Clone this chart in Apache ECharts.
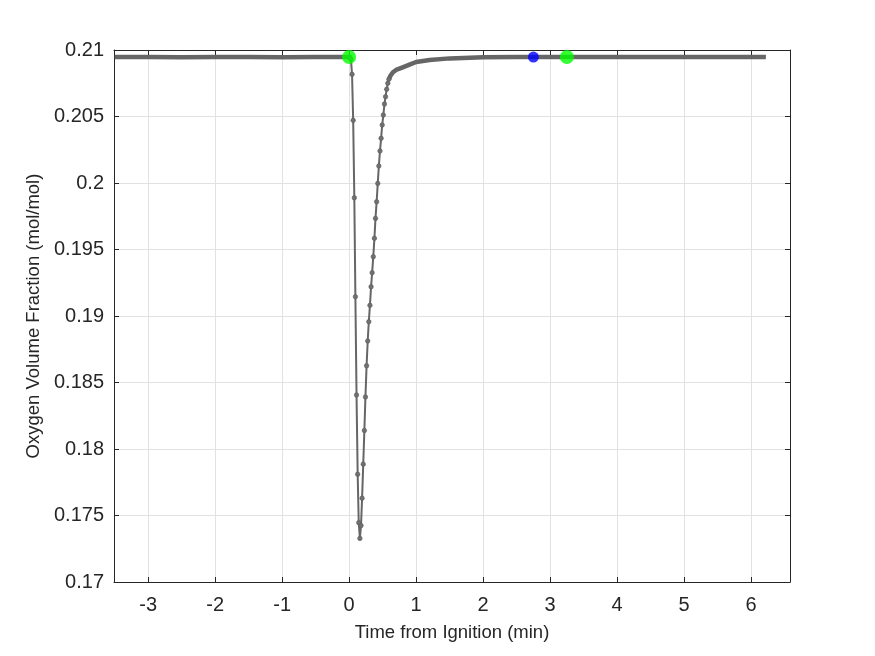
<!DOCTYPE html>
<html>
<head>
<meta charset="UTF-8">
<title>Oxygen Volume Fraction</title>
<script src="https://cdn.jsdelivr.net/npm/echarts/dist/echarts.min.js"></script>
<style>
  html, body { margin: 0; padding: 0; background: #fff; }
  #main { width: 875px; height: 656px; }
</style>
</head>
<body>
<div id="main"></div>
<script>
// baseline before ignition (min, mol/mol)
var preTime = [-3.5, -3, -2.5, -2, -1.5, -1, -0.5, 0];
var preO2 = [0.20947, 0.20947, 0.20946, 0.20947, 0.20947, 0.20946, 0.20947, 0.20947];

// drop and fast recovery, 1 s samples
var eventTime = [0, 0.01, 0.027, 0.043, 0.06, 0.077, 0.093, 0.11, 0.127, 0.143, 0.16,
  0.177, 0.193, 0.21, 0.227, 0.243, 0.26, 0.277, 0.293, 0.31, 0.327, 0.343, 0.36, 0.377,
  0.393, 0.41, 0.427, 0.443, 0.46, 0.477, 0.493, 0.51, 0.527, 0.543, 0.56, 0.577, 0.593];
var eventO2 = [0.20947, 0.20945, 0.2093, 0.20817, 0.20471, 0.19889, 0.19145, 0.18406, 0.1781, 0.17446, 0.17328,
  0.17424, 0.1763, 0.17886, 0.18139, 0.18391, 0.18626, 0.18812, 0.18957, 0.1908, 0.1922, 0.19326, 0.19446, 0.19584,
  0.19734, 0.19859, 0.19997, 0.20128, 0.20241, 0.20336, 0.20436, 0.20511, 0.20594, 0.20649, 0.20705, 0.2075, 0.2078];

// slow tail back to ambient
var tailTime = [0.593, 0.62, 0.65, 0.7, 0.75, 0.8, 0.9, 1.0, 1.2, 1.5, 2.0, 2.5, 3, 4, 5, 6.22];
var tailO2 = [0.2078, 0.2081, 0.2083, 0.2085, 0.2086, 0.2087, 0.2089, 0.2091, 0.20925, 0.20937, 0.20945, 0.20947, 0.20947, 0.20947, 0.20947, 0.20947];

// marked points
var greenTime = [0, 3.25];
var greenO2 = [0.20947, 0.20947];
var blueTime = [2.75];
var blueO2 = [0.20947];

// x tick positions
var xTicks = [-3, -2, -1, 0, 1, 2, 3, 4, 5, 6];

function pairs(xs, ys) {
  return xs.map(function (x, i) { return [x, ys[i]]; });
}

var ink = '#262626';
var font = 'Liberation Sans, Arial, Helvetica, sans-serif';
var lineGray = '#666666';
var gridGray = '#e2e2e2';

var chart = echarts.init(document.getElementById('main'), null, { renderer: 'canvas' });

var option = {
  animation: false,
  backgroundColor: '#fff',
  textStyle: { fontFamily: font },
  grid: { left: 114, top: 50, right: 85, bottom: 74, containLabel: false },
  xAxis: [
    {
      type: 'value',
      position: 'bottom',
      min: -3.51,
      max: 6.58,
      name: 'Time from Ignition (min)',
      nameLocation: 'middle',
      nameGap: 41,
      nameTextStyle: { color: ink, fontSize: 18.5, fontFamily: font },
      axisLine: { show: true, onZero: false, lineStyle: { color: ink, width: 1 } },
      axisTick: { show: true, inside: true, length: 5, customValues: xTicks, lineStyle: { color: ink, width: 1 } },
      axisLabel: { color: ink, fontSize: 20, fontFamily: font, margin: 13, customValues: xTicks },
      splitLine: { show: true, lineStyle: { color: gridGray, width: 1 } }
    },
    {
      type: 'value',
      position: 'top',
      min: -3.51,
      max: 6.58,
      axisLine: { show: true, onZero: false, lineStyle: { color: ink, width: 1 } },
      axisTick: { show: true, inside: true, length: 5, customValues: xTicks, lineStyle: { color: ink, width: 1 } },
      axisLabel: { show: false },
      splitLine: { show: false }
    }
  ],
  yAxis: [
    {
      type: 'value',
      position: 'left',
      min: 0.17,
      max: 0.21,
      interval: 0.005,
      name: 'Oxygen Volume Fraction (mol/mol)',
      nameLocation: 'middle',
      nameGap: 70,
      nameRotate: 90,
      nameTextStyle: { color: ink, fontSize: 18.5, fontFamily: font },
      axisLine: { show: true, onZero: false, lineStyle: { color: ink, width: 1 } },
      axisTick: { show: true, inside: true, length: 5, lineStyle: { color: ink, width: 1 } },
      axisLabel: { color: ink, fontSize: 20, fontFamily: font, margin: 10 },
      splitLine: { show: true, lineStyle: { color: gridGray, width: 1 } }
    },
    {
      type: 'value',
      position: 'right',
      min: 0.17,
      max: 0.21,
      interval: 0.005,
      axisLine: { show: true, onZero: false, lineStyle: { color: ink, width: 1 } },
      axisTick: { show: true, inside: true, length: 5, lineStyle: { color: ink, width: 1 } },
      axisLabel: { show: false },
      splitLine: { show: false }
    }
  ],
  series: [
    {
      name: 'before',
      type: 'line',
      data: pairs(preTime, preO2),
      showSymbol: false,
      lineStyle: { color: lineGray, width: 4.5 },
      z: 2
    },
    {
      name: 'tail',
      type: 'line',
      data: pairs(tailTime, tailO2),
      showSymbol: false,
      lineStyle: { color: lineGray, width: 4.5 },
      z: 2
    },
    {
      name: 'event',
      type: 'line',
      data: pairs(eventTime, eventO2),
      symbol: 'circle',
      symbolSize: 4.5,
      showAllSymbol: true,
      itemStyle: { color: '#707070', borderColor: '#5a5a5a', borderWidth: 0.6 },
      lineStyle: { color: lineGray, width: 2 },
      z: 3
    },
    {
      name: 'blue',
      type: 'scatter',
      data: pairs(blueTime, blueO2),
      symbol: 'circle',
      symbolSize: 11,
      itemStyle: { color: '#0000ff' },
      z: 5
    },
    {
      name: 'green',
      type: 'scatter',
      data: pairs(greenTime, greenO2),
      symbol: 'circle',
      symbolSize: 14,
      itemStyle: { color: '#00ff00' },
      z: 5
    }
  ]
};

chart.setOption(option);
</script>
</body>
</html>
